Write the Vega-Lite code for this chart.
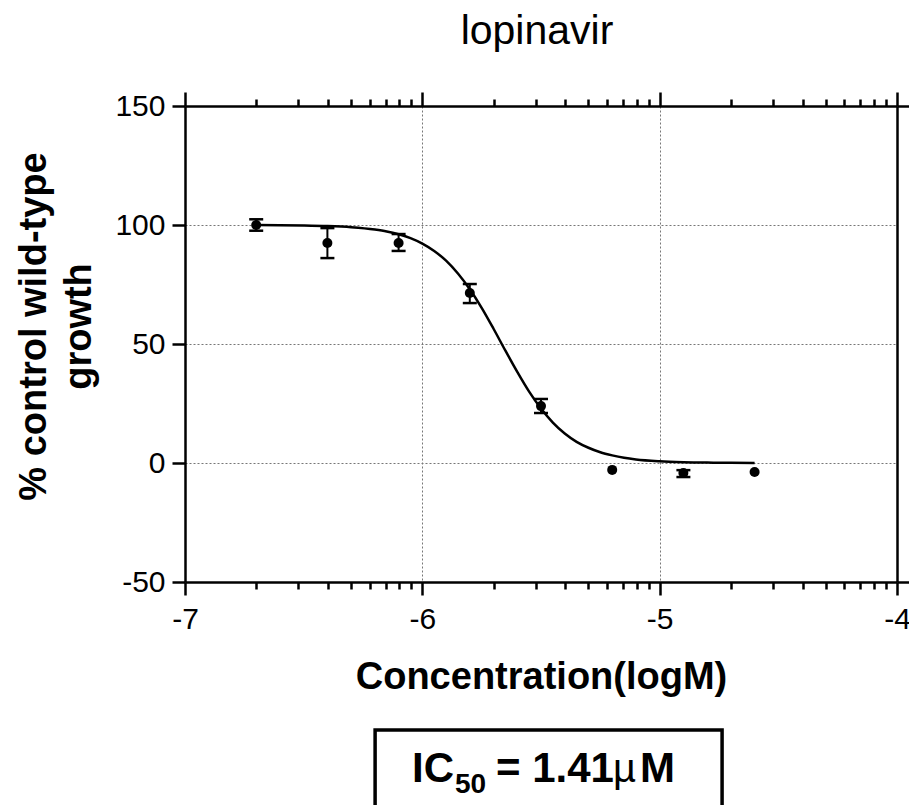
{
  "$schema": "https://vega.github.io/schema/vega-lite/v6.json",
  "autosize": {"type": "none"},
  "padding": {"left": 185, "top": 106, "right": 12, "bottom": 223},
  "width": 712,
  "height": 476,
  "title": {"text": "lopinavir", "fontSize": 41, "fontWeight": "normal", "anchor": "middle", "frame": "group", "baseline": "alphabetic", "offset": 6, "dx": -4, "color": "black"},
  "datasets": {
    "curve": [
      {"x": -6.7, "y": 99.95}, {"x": -6.6, "y": 99.9}, {"x": -6.5, "y": 99.79}, {"x": -6.4, "y": 99.56},
      {"x": -6.3, "y": 99.08}, {"x": -6.2, "y": 98.1}, {"x": -6.15, "y": 97.3}, {"x": -6.1, "y": 96.1},
      {"x": -6.05, "y": 94.5}, {"x": -6.0, "y": 92.2}, {"x": -5.95, "y": 89.1}, {"x": -5.9, "y": 85.0},
      {"x": -5.85, "y": 79.6}, {"x": -5.8, "y": 73.0}, {"x": -5.75, "y": 65.2}, {"x": -5.7, "y": 56.4},
      {"x": -5.65, "y": 47.2}, {"x": -5.6, "y": 38.3}, {"x": -5.55, "y": 30.0}, {"x": -5.5, "y": 22.9},
      {"x": -5.45, "y": 17.0}, {"x": -5.4, "y": 12.4}, {"x": -5.35, "y": 8.9}, {"x": -5.3, "y": 6.4},
      {"x": -5.25, "y": 4.5}, {"x": -5.2, "y": 3.2}, {"x": -5.15, "y": 2.2}, {"x": -5.1, "y": 1.5},
      {"x": -5.0, "y": 0.74}, {"x": -4.9, "y": 0.36}, {"x": -4.8, "y": 0.17}, {"x": -4.7, "y": 0.08},
      {"x": -4.6, "y": 0.04}
    ],
    "points": [
      {"x": -6.7, "y": 100.0, "lo": 97.6, "hi": 102.4},
      {"x": -6.4, "y": 92.4, "lo": 86.1, "hi": 98.7},
      {"x": -6.1, "y": 92.4, "lo": 89.1, "hi": 96.2},
      {"x": -5.8, "y": 71.4, "lo": 67.2, "hi": 75.2},
      {"x": -5.5, "y": 23.9, "lo": 21.0, "hi": 26.9},
      {"x": -5.2, "y": -2.9, "lo": null, "hi": null},
      {"x": -4.9, "y": -4.2, "lo": -5.9, "hi": -3.0},
      {"x": -4.6, "y": -3.8, "lo": null, "hi": null}
    ],
    "box": [{"x": -6.199, "x2": -4.737, "y": -112.2, "y2": -160}],
    "big": [
      {"t": "IC", "x": -6.0435, "y": -134.0},
      {"t": "= 1.41", "x": -5.6896, "y": -134.0},
      {"t": "M", "x": -5.0828, "y": -134.0}
    ],
    "sub": [{"t": "50", "x": -5.8623, "y": -138.7}],
    "mu": [{"t": "µ", "x": -5.1966, "y": -134.0}]
  },
  "resolve": {"axis": {"x": "independent", "y": "independent"}},
  "layer": [
    {
      "data": {"name": "curve"},
      "mark": {"type": "line", "color": "black", "strokeWidth": 2.5, "interpolate": "monotone"},
      "encoding": {
        "x": {"field": "x", "type": "quantitative", "scale": {"domain": [-7, -4], "nice": false, "zero": false},
          "axis": {"orient": "bottom", "values": [-7, -6, -5, -4], "tickSize": 13, "labelFontSize": 30, "labelPadding": 9,
            "labelExpr": "toString(datum.value)", "labelOverlap": false, "labelFlush": false, "grid": false,
            "title": "Concentration(logM)", "titleFontSize": 38, "titleFontWeight": "bold", "titlePadding": 24}},
        "y": {"field": "y", "type": "quantitative", "scale": {"domain": [-50, 150], "nice": false, "zero": false},
          "axis": {"orient": "left", "values": [-50, 0, 50, 100, 150], "tickSize": 13, "labelFontSize": 30, "labelPadding": 7,
            "labelExpr": "toString(datum.value)", "labelOverlap": false, "labelFlush": false, "grid": false,
            "title": ["% control wild-type", "growth"], "titleFontSize": 38, "titleFontWeight": "bold",
            "titleLineHeight": 45, "titlePadding": 16, "titleY": 220}}
      }
    },
    {
      "data": {"name": "points"},
      "mark": {"type": "point", "filled": true, "size": 100, "color": "black", "opacity": 1},
      "encoding": {
        "x": {"field": "x", "type": "quantitative", "scale": {"domain": [-7, -4], "nice": false, "zero": false},
          "axis": {"orient": "top", "values": [-7, -6, -5, -4], "tickSize": 14, "labels": false, "title": null, "grid": false}},
        "y": {"field": "y", "type": "quantitative", "scale": {"domain": [-50, 150], "nice": false, "zero": false},
          "axis": {"orient": "right", "values": [-50, 150], "tickSize": 12, "labels": false, "title": null, "grid": false}}
      }
    },
    {
      "data": {"name": "points"},
      "transform": [{"filter": "datum.lo != null"}],
      "mark": {"type": "rule", "color": "black", "strokeWidth": 2},
      "encoding": {
        "x": {"field": "x", "type": "quantitative", "scale": {"domain": [-7, -4], "nice": false, "zero": false},
          "axis": {"orient": "bottom", "values": [-6.69897, -6.52288, -6.39794, -6.30103, -6.22185, -6.1549, -6.09691, -6.04576,
            -5.69897, -5.52288, -5.39794, -5.30103, -5.22185, -5.1549, -5.09691, -5.04576,
            -4.69897, -4.52288, -4.39794, -4.30103, -4.22185, -4.1549, -4.09691, -4.04576],
            "tickSize": 7, "labels": false, "domain": false, "title": null, "grid": false}},
        "y": {"field": "lo", "type": "quantitative", "scale": {"domain": [-50, 150], "nice": false, "zero": false},
          "axis": {"orient": "left", "values": [0, 50, 100], "grid": true, "ticks": false, "labels": false, "domain": false,
            "title": null, "gridDash": [2, 2], "gridColor": "#777777", "gridWidth": 1}},
        "y2": {"field": "hi"}
      }
    },
    {
      "data": {"name": "points"},
      "transform": [{"filter": "datum.lo != null"}, {"fold": ["lo", "hi"], "as": ["k", "v"]}],
      "mark": {"type": "tick", "orient": "horizontal", "size": 14, "thickness": 2.5, "color": "black", "opacity": 1},
      "encoding": {
        "x": {"field": "x", "type": "quantitative", "scale": {"domain": [-7, -4], "nice": false, "zero": false},
          "axis": {"orient": "top", "values": [-6.69897, -6.52288, -6.39794, -6.30103, -6.22185, -6.1549, -6.09691, -6.04576,
            -5.69897, -5.52288, -5.39794, -5.30103, -5.22185, -5.1549, -5.09691, -5.04576,
            -4.69897, -4.52288, -4.39794, -4.30103, -4.22185, -4.1549, -4.09691, -4.04576],
            "tickSize": 7, "labels": false, "domain": false, "title": null, "grid": false}},
        "y": {"field": "v", "type": "quantitative", "scale": {"domain": [-50, 150], "nice": false, "zero": false}, "axis": null}
      }
    },
    {
      "data": {"name": "box"},
      "mark": {"type": "rect", "filled": false, "stroke": "black", "strokeWidth": 3.5},
      "encoding": {
        "x": {"field": "x", "type": "quantitative", "scale": {"domain": [-7, -4], "nice": false, "zero": false},
          "axis": {"orient": "bottom", "values": [-6, -5], "grid": true, "ticks": false, "labels": false, "domain": false,
            "title": null, "gridDash": [2, 2], "gridColor": "#777777", "gridWidth": 1}},
        "x2": {"field": "x2"},
        "y": {"field": "y", "type": "quantitative", "scale": {"domain": [-50, 150], "nice": false, "zero": false}, "axis": null},
        "y2": {"field": "y2"}
      }
    },
    {
      "data": {"name": "big"},
      "mark": {"type": "text", "fontSize": 42, "fontWeight": "bold", "align": "left", "baseline": "alphabetic", "color": "black"},
      "encoding": {
        "x": {"field": "x", "type": "quantitative", "scale": {"domain": [-7, -4], "nice": false, "zero": false}, "axis": null},
        "y": {"field": "y", "type": "quantitative", "scale": {"domain": [-50, 150], "nice": false, "zero": false}, "axis": null},
        "text": {"field": "t"}
      }
    },
    {
      "data": {"name": "sub"},
      "mark": {"type": "text", "fontSize": 28, "fontWeight": "bold", "align": "left", "baseline": "alphabetic", "color": "black"},
      "encoding": {
        "x": {"field": "x", "type": "quantitative", "scale": {"domain": [-7, -4], "nice": false, "zero": false}, "axis": null},
        "y": {"field": "y", "type": "quantitative", "scale": {"domain": [-50, 150], "nice": false, "zero": false}, "axis": null},
        "text": {"field": "t"}
      }
    },
    {
      "data": {"name": "mu"},
      "mark": {"type": "text", "fontSize": 40, "fontWeight": "normal", "align": "left", "baseline": "alphabetic", "color": "black"},
      "encoding": {
        "x": {"field": "x", "type": "quantitative", "scale": {"domain": [-7, -4], "nice": false, "zero": false}, "axis": null},
        "y": {"field": "y", "type": "quantitative", "scale": {"domain": [-50, 150], "nice": false, "zero": false}, "axis": null},
        "text": {"field": "t"}
      }
    }
  ],
  "config": {
    "view": {"stroke": null},
    "font": "Liberation Sans",
    "axis": {"domainColor": "black", "tickColor": "black", "labelColor": "black", "titleColor": "black",
      "domainWidth": 2.5, "tickWidth": 2.5, "labelFont": "Liberation Sans", "titleFont": "Liberation Sans"}
  }
}
